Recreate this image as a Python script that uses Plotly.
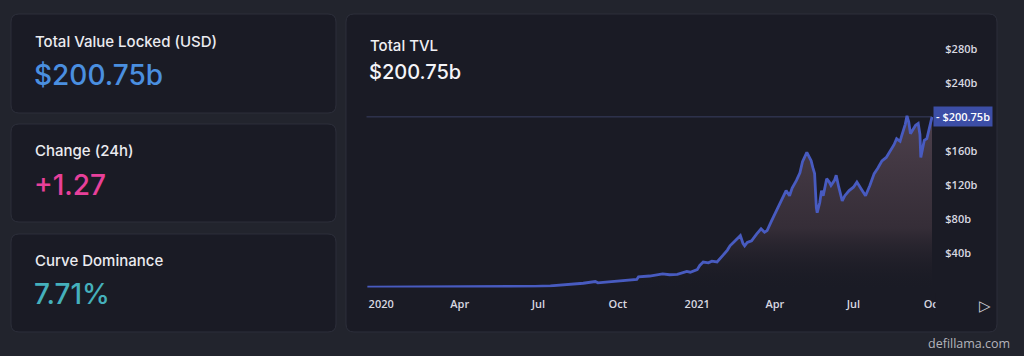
import plotly.graph_objects as go

# ---------------- data ----------------
dates = [
    "2019-12-16", "2020-02-15", "2020-04-01", "2020-06-06", "2020-06-27", "2020-07-15",
    "2020-08-01", "2020-08-22", "2020-09-05", "2020-09-08", "2020-09-14", "2020-09-28",
    "2020-10-10", "2020-10-23", "2020-10-25", "2020-11-07", "2020-11-22", "2020-11-30",
    "2020-12-09", "2020-12-20", "2020-12-24", "2021-01-01", "2021-01-04", "2021-01-08",
    "2021-01-14", "2021-01-18", "2021-01-24", "2021-01-27", "2021-01-31", "2021-02-05",
    "2021-02-08", "2021-02-14", "2021-02-20", "2021-02-23", "2021-02-25", "2021-02-28",
    "2021-03-05", "2021-03-11", "2021-03-16", "2021-03-20", "2021-03-23", "2021-03-28",
    "2021-04-03", "2021-04-08", "2021-04-14", "2021-04-18", "2021-04-21", "2021-04-26",
    "2021-04-30", "2021-05-03", "2021-05-08", "2021-05-11", "2021-05-13", "2021-05-15",
    "2021-05-17", "2021-05-19", "2021-05-20", "2021-05-23", "2021-05-25", "2021-05-27",
    "2021-05-31", "2021-06-03", "2021-06-05", "2021-06-09", "2021-06-11", "2021-06-14",
    "2021-06-18", "2021-06-21", "2021-06-26", "2021-07-01", "2021-07-05", "2021-07-10",
    "2021-07-15", "2021-07-20", "2021-07-25", "2021-07-29", "2021-08-03", "2021-08-08",
    "2021-08-13", "2021-08-17", "2021-08-20", "2021-08-24", "2021-08-26", "2021-08-30",
    "2021-09-01", "2021-09-03", "2021-09-05", "2021-09-08", "2021-09-11", "2021-09-14",
    "2021-09-16", "2021-09-17", "2021-09-19", "2021-09-21", "2021-09-24", "2021-09-27",
    "2021-09-30",
]
tvl_b = [
    0.5, 0.6, 0.7, 1.0, 1.3, 1.8,
    3.0, 5.0, 7.0, 5.5, 6.0, 7.5,
    8.5, 9.5, 12.5, 13.5, 16.0, 15.0,
    15.5, 19.0, 18.0, 21.0, 26.0, 30.0,
    29.0, 31.0, 30.0, 33.0, 38.0, 44.0,
    49.0, 55.0, 61.0, 52.0, 49.0, 53.0,
    55.0, 63.0, 69.0, 65.0, 67.0, 78.0,
    91.0, 102.0, 114.0, 108.0, 117.0, 126.0,
    135.0, 148.0, 159.0, 153.0, 149.0, 141.0,
    134.0, 94.0, 88.0, 100.0, 114.0, 108.0,
    128.0, 124.0, 120.0, 126.0, 132.0, 118.0,
    102.0, 108.0, 114.0, 118.0, 124.0, 116.0,
    108.0, 120.0, 134.0, 140.0, 149.0, 153.0,
    161.0, 168.0, 175.0, 172.0, 179.0, 192.0,
    202.0, 195.0, 181.0, 186.0, 191.0, 193.0,
    180.0, 153.0, 165.0, 173.0, 175.0, 190.0,
    200.75,
]
x_tick_dates = ["2020-01-01", "2020-04-01", "2020-07-01", "2020-10-01",
                "2021-01-01", "2021-04-01", "2021-07-01", "2021-10-01"]
x_tick_text = ["2020", "Apr", "Jul", "Oct", "2021", "Apr", "Jul", "Oct"]
y_tick_vals = [40, 80, 120, 160, 240, 280]
y_tick_text = ["$40b", "$80b", "$120b", "$160b", "$240b", "$280b"]

card_labels = ["Total Value Locked (USD)", "Change (24h)", "Curve Dominance"]
card_values = ["$200.75b", "+1.27", "7.71%"]
card_colors = ["#4a8fe0", "#e8409a", "#45b0bc"]
chart_title = "Total TVL"
chart_value = "$200.75b"
last_label = "$200.75b"
last_value = tvl_b[-1]

# ---------------- geometry helpers ----------------
W, H = 1024, 356
PAGE_BG = "#22242d"
CARD_BG = "#1a1b25"
CARD_BORDER = "#2d2f3b"
LINE = "#485bc0"


def px(x):
    return x / W


def py(y):
    return 1 - y / H


def rrect(x0, y0, x1, y1, r):
    def P(x, y):
        return f"{px(x):.5f},{py(y):.5f}"
    return (f"M {P(x0 + r, y0)} L {P(x1 - r, y0)} Q {P(x1, y0)} {P(x1, y0 + r)} "
            f"L {P(x1, y1 - r)} Q {P(x1, y1)} {P(x1 - r, y1)} "
            f"L {P(x0 + r, y1)} Q {P(x0, y1)} {P(x0, y1 - r)} "
            f"L {P(x0, y0 + r)} Q {P(x0, y0)} {P(x0 + r, y0)} Z")


FONT = "Inter"

fig = go.Figure()
fig.add_trace(go.Scatter(
    x=dates, y=tvl_b, mode="lines",
    line=dict(color=LINE, width=2.8),
    fill="tozeroy",
    fillgradient=dict(type="vertical", start=0, stop=200,
                      colorscale=[[0, "rgba(30,29,38,0)"], [0.35, "rgba(60,50,60,0.8)"],
                                  [1, "rgba(80,66,78,0.95)"]]),
    hoverinfo="skip", showlegend=False,
))

shapes = []
for (y0, y1) in [(14, 113), (124, 222), (234, 332)]:
    shapes.append(dict(type="path", xref="paper", yref="paper", path=rrect(11, y0, 336, y1, 8),
                       fillcolor=CARD_BG, line=dict(color=CARD_BORDER, width=1), layer="below"))
shapes.append(dict(type="path", xref="paper", yref="paper", path=rrect(346, 14, 997, 332, 8),
                   fillcolor=CARD_BG, line=dict(color=CARD_BORDER, width=1), layer="below"))
shapes.append(dict(type="line", xref="paper", yref="y", x0=px(366.5), x1=px(932),
                   y0=last_value, y1=last_value,
                   line=dict(color="rgba(95,105,170,0.45)", width=1), layer="below"))
# clip the last tick label at the chart edge, as in the reference
shapes.append(dict(type="rect", xref="paper", yref="paper", x0=px(935.5), x1=px(962),
                   y0=py(312), y1=py(293), fillcolor=CARD_BG, line=dict(width=0), layer="above"))

annotations = []
label_y = [41, 150, 260]
value_y = [75, 185, 294]
for lab, val, col, ly, vy in zip(card_labels, card_values, card_colors, label_y, value_y):
    annotations.append(dict(text=lab, xref="paper", yref="paper", x=px(33), y=py(ly),
                            xanchor="left", yanchor="middle", showarrow=False,
                            font=dict(family=FONT, size=15, color="#ebebf0", weight=500)))
    annotations.append(dict(text=val, xref="paper", yref="paper", x=px(32), y=py(vy),
                            xanchor="left", yanchor="middle", showarrow=False,
                            font=dict(family=FONT, size=28, color=col, weight=500)))

annotations.append(dict(text=chart_title, xref="paper", yref="paper", x=px(368), y=py(46),
                        xanchor="left", yanchor="middle", showarrow=False,
                        font=dict(family=FONT, size=15, color="#f0f0f4", weight=500)))
annotations.append(dict(text=chart_value, xref="paper", yref="paper", x=px(367), y=py(72),
                        xanchor="left", yanchor="middle", showarrow=False,
                        font=dict(family=FONT, size=20, color="#f4f4f8", weight=500)))
annotations.append(dict(text="-&nbsp;" + last_label, xref="paper", yref="y", x=px(933), y=last_value,
                        xanchor="left", yanchor="middle", showarrow=False,
                        bgcolor="#3c4ea6", borderpad=2,
                        font=dict(family="Open Sans", size=11, color="#ffffff", weight=600)))
annotations.append(dict(text="▷", xref="paper", yref="paper", x=px(985), y=py(306),
                        xanchor="center", yanchor="middle", showarrow=False,
                        font=dict(family="DejaVu Sans", size=15, color="#d0d0d8")))
annotations.append(dict(text="defillama.com", xref="paper", yref="paper", x=px(1012), y=py(343),
                        xanchor="right", yanchor="middle", showarrow=False,
                        font=dict(family="Open Sans", size=12.5, color="#b4b4bc", weight=500)))

fig.update_layout(
    width=W, height=H, autosize=False,
    margin=dict(l=0, r=0, t=0, b=0, autoexpand=False),
    paper_bgcolor=PAGE_BG, plot_bgcolor="rgba(0,0,0,0)",
    shapes=shapes, annotations=annotations,
    showlegend=False,
    xaxis=dict(domain=[px(366.5), px(933.1)], range=["2019-12-15", "2021-10-01 06:00"],
               automargin=False,
               tickvals=x_tick_dates, ticktext=x_tick_text,
               showgrid=False, zeroline=False, showline=False,
               ticks="outside", ticklen=6, tickcolor="rgba(0,0,0,0)",
               tickfont=dict(family="Open Sans", size=11, color="#d8d8e0", weight=600)),
    yaxis=dict(domain=[py(287.5), py(32.5)], range=[0, 300], side="right",
               automargin=False,
               tickvals=y_tick_vals, ticktext=y_tick_text,
               showgrid=False, zeroline=False, showline=False,
               ticks="outside", ticklen=9, tickcolor="rgba(0,0,0,0)",
               tickfont=dict(family="Open Sans", size=11, color="#d8d8e0", weight=600)),
)

fig.write_html(
    "out.html",
    config={"displayModeBar": False, "responsive": False},
    post_script="document.body.style.margin='0';document.body.style.overflow='hidden';"
                "document.body.style.background='#22242d';"
                "document.documentElement.style.background='#22242d';",
)
